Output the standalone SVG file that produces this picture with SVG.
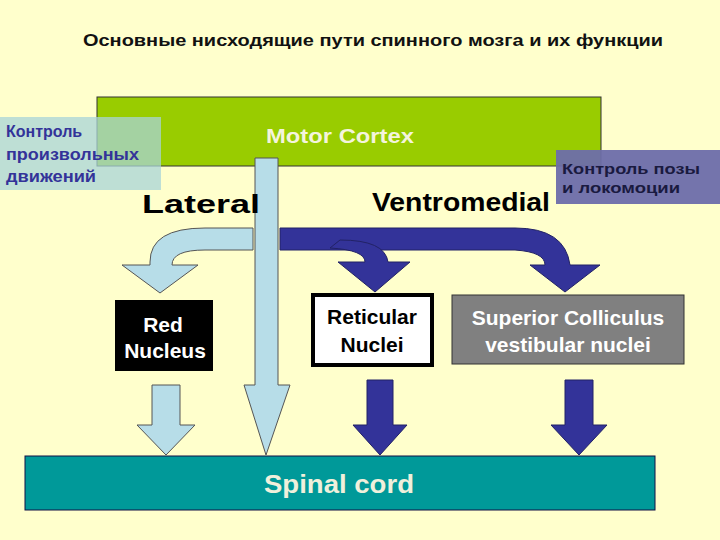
<svg xmlns="http://www.w3.org/2000/svg" width="720" height="540" viewBox="0 0 720 540">
<style>
text{font-family:"Liberation Sans",Arial,sans-serif}
.lb{fill:#B7DDE8;stroke:#555;stroke-width:1}
.db{fill:#333399;stroke:#222266;stroke-width:1}
.big{font-size:25px}
.nd{font-size:21px;font-weight:bold;text-anchor:middle}
</style>
<rect width="720" height="540" fill="#FFFFCC"/>
<text x="83" y="46" font-size="17" font-weight="bold" fill="#111" textLength="580" lengthAdjust="spacingAndGlyphs">Основные нисходящие пути спинного мозга и их функции</text>
<g id="motor-cortex"><rect x="97" y="97" width="504" height="69" fill="#99CC00" stroke="#333"/><text x="266" y="143" font-size="21" font-weight="bold" fill="#F4F4DC" textLength="148" lengthAdjust="spacingAndGlyphs">Motor Cortex</text></g>
<g id="label-left"><rect x="0" y="117" width="161" height="73" fill="#A8D4D8" opacity="0.75"/><text font-size="16" font-weight="bold" fill="#333399"><tspan x="6" y="137">Контроль</tspan><tspan x="6" y="160" textLength="133" lengthAdjust="spacingAndGlyphs">произвольных</tspan><tspan x="6" y="182" textLength="90" lengthAdjust="spacingAndGlyphs">движений</tspan></text></g>
<g id="connectors">
<path class="lb" d="M253,228 L205,228 Q150,228 150,262 L150,265 L122,265 L160,293 L198,265 L172,265 Q172,250 205,250 L253,250 Z"/>
<path class="db" d="M280,228 L515,228 Q565,228 570,265 L600,265 L565,292 L530,265 L545,265 Q545,252 515,250 L280,250 Z"/>
<path class="db" d="M330,248 Q365,250 365,262 L338,262 L375,292 L410,262 L388,262 Q385,240 340,240 Z"/>
<path class="lb" d="M255,158 L278,158 L278,385 L290,385 L266,455 L244,385 L255,385 Z"/>
<path class="lb" d="M152,385 L180,385 L180,425 L195,425 L166,455 L137,425 L152,425 Z"/>
<path class="db" d="M367,380 L393,380 L393,425 L407,425 L380,455 L353,425 L367,425 Z"/>
<path class="db" d="M565,380 L593,380 L593,425 L607,425 L579,455 L551,425 L565,425 Z"/>
</g>
<g id="label-right"><rect x="556" y="150" width="164" height="54" fill="#6D6DAA" opacity="0.95"/><text font-size="15" font-weight="bold" fill="#1A1A40"><tspan x="562" y="174" textLength="138" lengthAdjust="spacingAndGlyphs">Контроль позы</tspan><tspan x="562" y="193" textLength="118" lengthAdjust="spacingAndGlyphs">и локомоции</tspan></text></g>
<text x="142" y="213" class="big" font-weight="bold" textLength="118" lengthAdjust="spacingAndGlyphs">Lateral</text>
<text x="372" y="211" class="big" font-weight="bold" textLength="178" lengthAdjust="spacingAndGlyphs">Ventromedial</text>
<g id="red-nucleus"><rect x="115" y="300" width="98" height="71" fill="#000"/><text class="nd" fill="#fff"><tspan x="163" y="332">Red</tspan><tspan x="165" y="358">Nucleus</tspan></text></g>
<g id="reticular"><rect x="313" y="295" width="119" height="70" fill="#fff" stroke="#000" stroke-width="4"/><text class="nd" fill="#000"><tspan x="372" y="324">Reticular</tspan><tspan x="372" y="352">Nuclei</tspan></text></g>
<g id="superior"><rect x="452" y="295" width="232" height="69" fill="#808080" stroke="#333"/><text class="nd" fill="#fff"><tspan x="568" y="325">Superior Colliculus</tspan><tspan x="568" y="352">vestibular nuclei</tspan></text></g>
<g id="spinal-cord"><rect x="25" y="456" width="630" height="54" fill="#009999" stroke="#114"/><text x="264" y="493" font-size="25" font-weight="bold" fill="#F0F0DC" textLength="150" lengthAdjust="spacingAndGlyphs">Spinal cord</text></g>
</svg>
